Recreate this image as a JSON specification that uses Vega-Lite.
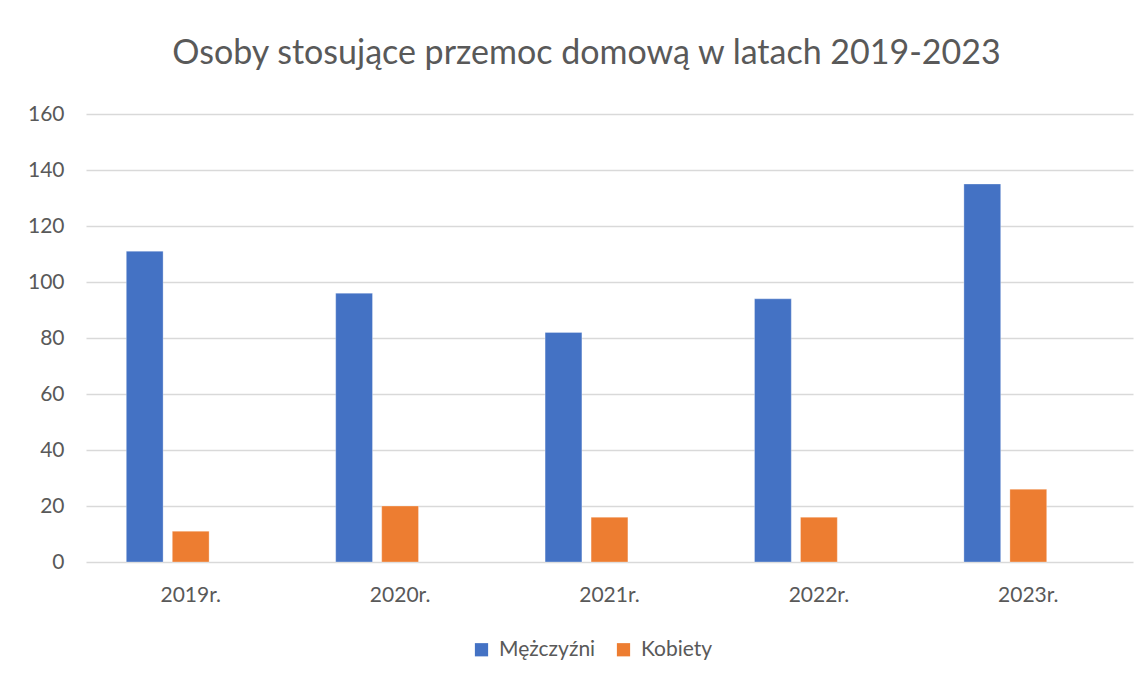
{
  "$schema": "https://vega.github.io/schema/vega-lite/v6.json",
  "autosize": {"type": "none"},
  "width": 1047,
  "height": 448,
  "padding": {"left": 86, "top": 114, "right": 14, "bottom": 115},
  "background": "white",
  "title": {
    "text": "Osoby stosujące przemoc domową w latach 2019-2023",
    "font": "Lato",
    "fontSize": 34,
    "fontWeight": "normal",
    "color": "#595959",
    "anchor": "middle",
    "dx": -23,
    "offset": 5,
    "baseline": "alphabetic"
  },
  "data": {
    "values": [
      {"rok": "2019r.", "plec": "Mężczyźni", "liczba": 111},
      {"rok": "2019r.", "plec": "Kobiety", "liczba": 11},
      {"rok": "2020r.", "plec": "Mężczyźni", "liczba": 96},
      {"rok": "2020r.", "plec": "Kobiety", "liczba": 20},
      {"rok": "2021r.", "plec": "Mężczyźni", "liczba": 82},
      {"rok": "2021r.", "plec": "Kobiety", "liczba": 16},
      {"rok": "2022r.", "plec": "Mężczyźni", "liczba": 94},
      {"rok": "2022r.", "plec": "Kobiety", "liczba": 16},
      {"rok": "2023r.", "plec": "Mężczyźni", "liczba": 135},
      {"rok": "2023r.", "plec": "Kobiety", "liczba": 26}
    ]
  },
  "mark": {"type": "bar", "stroke": "white", "strokeWidth": 0.5, "strokeOpacity": 0.6},
  "encoding": {
    "x": {
      "field": "rok",
      "type": "nominal",
      "scale": {"paddingInner": 0, "paddingOuter": 0},
      "axis": {
        "title": null,
        "labelAngle": 0,
        "labelFont": "Lato",
        "labelFontSize": 21,
        "labelColor": "#595959",
        "labelPadding": 22,
        "ticks": false,
        "domain": false
      }
    },
    "xOffset": {
      "field": "plec",
      "type": "nominal",
      "scale": {"domain": ["Mężczyźni", "Kobiety", "_"], "paddingInner": 0.2, "paddingOuter": 0.876}
    },
    "y": {
      "field": "liczba",
      "type": "quantitative",
      "scale": {"domain": [0, 160], "nice": false},
      "axis": {
        "title": null,
        "values": [0, 20, 40, 60, 80, 100, 120, 140, 160],
        "labelFont": "Lato",
        "labelFontSize": 21,
        "labelColor": "#595959",
        "labelPadding": 22,
        "ticks": false,
        "domain": false,
        "gridColor": "#d9d9d9",
        "gridWidth": 1.5
      }
    },
    "color": {
      "field": "plec",
      "type": "nominal",
      "scale": {"domain": ["Mężczyźni", "Kobiety"], "range": ["#4472c4", "#ed7d31"]},
      "legend": {
        "title": null,
        "orient": "none",
        "direction": "horizontal",
        "legendX": 385,
        "legendY": 525,
        "symbolType": "square",
        "symbolSize": 175,
        "symbolStrokeWidth": 0,
        "labelFont": "Lato",
        "labelFontSize": 21,
        "labelColor": "#595959",
        "columnPadding": 17,
        "labelOffset": 7
      }
    }
  },
  "config": {
    "view": {"stroke": null}
  }
}
